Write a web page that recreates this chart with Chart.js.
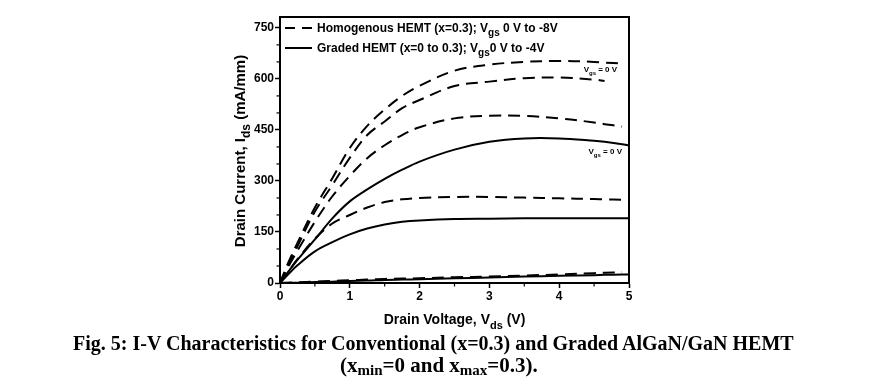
<!DOCTYPE html>
<html><head><meta charset="utf-8">
<script src="https://cdn.jsdelivr.net/npm/chart.js@4"></script>
<style>
html,body{margin:0;padding:0;background:#fff;width:886px;height:389px;overflow:hidden;}
#wrap{position:absolute;left:0;top:0;width:886px;height:389px;}
.cap{position:absolute;white-space:nowrap;font-family:"Liberation Serif","Times New Roman",serif;font-weight:bold;font-size:20px;line-height:22px;color:#000;}
.cap sub{font-size:15px;vertical-align:baseline;position:relative;top:3px;}
</style></head><body>
<div id="wrap"><canvas id="c" width="886" height="389"></canvas></div>
<div class="cap" id="cap1" style="left:73px;top:332px;">Fig. 5: I-V Characteristics for Conventional (x=0.3) and Graded AlGaN/GaN HEMT</div>
<div class="cap" id="cap2" style="left:340px;top:354px;font-size:21px;">(x<sub>min</sub>=0 and x<sub>max</sub>=0.3).</div>
<script>
// ---- data ----
const vds = [0,0.125,0.25,0.5,0.75,1,1.25,1.5,1.75,2,2.5,3,3.5,4,4.5,4.65,4.9,5];
// Homogenous HEMT (x=0.3), dashed
const homVgs0  = [0,63,118,222,308,397,462,510,550,580,624,642,650,653,650,648,645,null];
const homVgs2  = [0,55,108,210,288,368,435,475,514,538,579,592,602,604,598,594,null,null];
const homVgs4  = [0,50,95,180,255,315,367,405,435,458,484,492,491,484,472,467,460,null];
const homVgs6  = [0,35,70,130,175,200,222,238,246,250,253,253,251,249,247,246,245,null];
const homVgs8  = [0,1,2,4,6,8,10,12,13,14,17,19,22,25,29,30,32,null];
// Graded HEMT (x=0 to 0.3), solid
const grdVgs0  = [0,35,68,128,190,240,275,306,333,357,392,415,425,425,418,415,408,404];
const grdVgs2  = [0,27,52,93,120,143,160,172,180,184,188,189,190,190,190,190,190,190];
const grdVgs4  = [0,0.5,1,3,4,6,7,9,10,11,14,16,19,21,23,24,25,25];
const xTicks = [0,1,2,3,4,5];
const yTicks = [0,150,300,450,600,750];
const legendLabels = [
  [{t:'Homogenous HEMT (x=0.3); V'},{t:'gs',sub:true},{t:' 0 V to -8V'}],
  [{t:'Graded HEMT (x=0 to 0.3); V'},{t:'gs',sub:true},{t:'0 V to -4V'}]
];

const toXY = arr => arr.map((y,i)=>({x:vds[i], y:y}));
const DASH = [12,7];
function ds(arr, dashed){
  return {data:toXY(arr), borderColor:'#000', borderWidth:2, pointRadius:0,
    borderDash: dashed?DASH:[], tension:0.35, fill:false, spanGaps:false};
}
const FONT = '"Liberation Sans", Arial, sans-serif';

function richWidth(ctx, parts, size){
  let w=0;
  for(const p of parts){
    ctx.font = 'bold '+(p.sub?Math.round(size*0.8):size)+'px '+FONT;
    w += ctx.measureText(p.t).width;
  }
  return w;
}
function drawRich(ctx, parts, x, y, size, align){
  const w = richWidth(ctx, parts, size);
  let cx = align==='center'? x - w/2 : x;
  ctx.textBaseline='alphabetic'; ctx.textAlign='left'; ctx.fillStyle='#000';
  for(const p of parts){
    const s = p.sub?Math.round(size*0.8):size;
    ctx.font = 'bold '+s+'px '+FONT;
    ctx.fillText(p.t, cx, p.sub? y+size*0.35 : y);
    cx += ctx.measureText(p.t).width;
  }
}

const deco = {
  id:'deco',
  afterDraw(chart){
    const ctx = chart.ctx, a = chart.chartArea;
    const xs = chart.scales.x, ys = chart.scales.y;
    ctx.save();
    // box
    ctx.strokeStyle='#000'; ctx.lineWidth=2;
    ctx.strokeRect(a.left, a.top, a.right-a.left, a.bottom-a.top);
    // minor ticks
    ctx.lineWidth=1.2;
    for(let v=50; v<=750; v+=50){
      if(v%150===0) continue;
      const py = ys.getPixelForValue(v);
      ctx.beginPath(); ctx.moveTo(a.left-3.5, py); ctx.lineTo(a.left, py); ctx.stroke();
    }
    for(let v=0.5; v<5; v+=1){
      const px = xs.getPixelForValue(v);
      ctx.beginPath(); ctx.moveTo(px, a.bottom); ctx.lineTo(px, a.bottom+3.5); ctx.stroke();
    }
    // axis titles
    drawRich(ctx, [{t:'Drain Voltage, V'},{t:'ds',sub:true},{t:' (V)'}], (a.left+a.right)/2, 324, 14, 'center');
    ctx.save();
    ctx.translate(245, 151);
    ctx.rotate(-Math.PI/2);
    drawRich(ctx, [{t:'Drain Current, I'},{t:'ds',sub:true},{t:' (mA/mm)'}], 0, 0, 15, 'center');
    ctx.restore();
    // legend
    const lx = a.left+5, ly1 = 28, ly2 = 48;
    ctx.lineWidth=2;
    ctx.setLineDash([10,7]);
    ctx.beginPath(); ctx.moveTo(lx, ly1); ctx.lineTo(lx+27, ly1); ctx.stroke();
    ctx.setLineDash([]);
    ctx.beginPath(); ctx.moveTo(lx, ly2); ctx.lineTo(lx+27, ly2); ctx.stroke();
    drawRich(ctx, legendLabels[0], lx+32, ly1+4, 12, 'left');
    drawRich(ctx, legendLabels[1], lx+32, ly2+4, 12, 'left');
    // curve annotations
    const lab = [{t:'V'},{t:'gs',sub:true},{t:' = 0 V'}];
    drawRich(ctx, lab, xs.getPixelForValue(4.59), ys.getPixelForValue(620), 8, 'center');
    drawRich(ctx, lab, xs.getPixelForValue(4.66), ys.getPixelForValue(378), 8, 'center');
    ctx.restore();
  }
};

new Chart(document.getElementById('c'), {
  type:'line',
  data:{datasets:[
    ds(homVgs0,true), ds(homVgs2,true), ds(homVgs4,true), ds(homVgs6,true), ds(homVgs8,true),
    ds(grdVgs0,false), ds(grdVgs2,false), ds(grdVgs4,false)
  ]},
  options:{
    responsive:false, animation:false, devicePixelRatio:1,
    layout:{padding:{left:240,right:257,top:17,bottom:76}},
    plugins:{legend:{display:false}, tooltip:{enabled:false}},
    scales:{
      x:{type:'linear', min:0, max:5,
        ticks:{stepSize:1, autoSkip:false, maxRotation:0, padding:1, color:'#000',
          font:{family:FONT, weight:'bold', size:12},
          callback:v=> xTicks.includes(v)? String(v):''},
        grid:{drawOnChartArea:false, tickLength:5, tickColor:'#000', tickWidth:1.5},
        border:{color:'#000', width:2},
        afterFit:s=>{s.height=30;}
      },
      y:{type:'linear', min:0, max:782,
        ticks:{stepSize:150, includeBounds:false, autoSkip:false, padding:1, color:'#000',
          font:{family:FONT, weight:'bold', size:12},
          callback:v=> yTicks.includes(v)? String(v):''},
        grid:{drawOnChartArea:false, tickLength:5, tickColor:'#000', tickWidth:1.5},
        border:{color:'#000', width:2},
        afterFit:s=>{s.width=40;}
      }
    }
  },
  plugins:[deco]
});
</script>
</body></html>
